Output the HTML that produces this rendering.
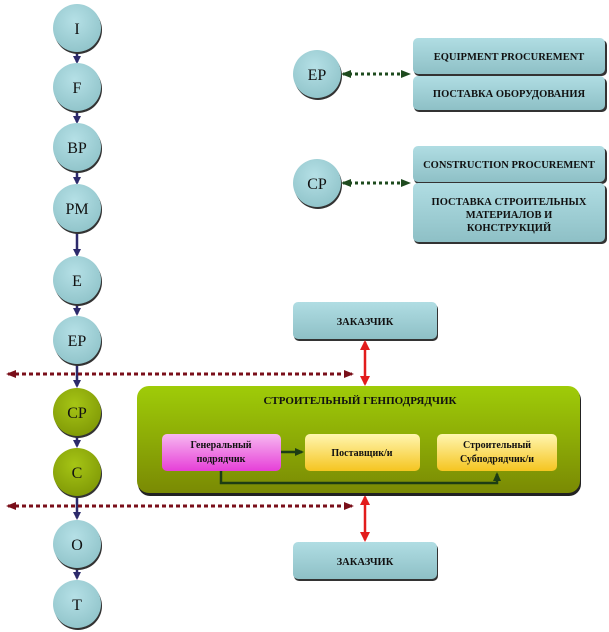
<!DOCTYPE html>
<html><head><meta charset="utf-8"><style>
html,body{margin:0;padding:0;background:#fff;}
svg{display:block;}
text{font-family:"Liberation Serif",serif;fill:#111;}
</style></head><body>
<svg width="609" height="632" viewBox="0 0 609 632" xmlns="http://www.w3.org/2000/svg">
<defs>
<radialGradient id="blue" cx="45%" cy="35%" r="70%"><stop offset="0" stop-color="#b5e0e6"/><stop offset="1" stop-color="#8fc3c9"/></radialGradient>
<radialGradient id="olive" cx="45%" cy="35%" r="70%"><stop offset="0" stop-color="#a6c515"/><stop offset="1" stop-color="#7f9806"/></radialGradient>
<linearGradient id="bbox" x1="0" y1="0" x2="0" y2="1"><stop offset="0" stop-color="#b0dde3"/><stop offset="1" stop-color="#8ec0c6"/></linearGradient>
<linearGradient id="gbox" x1="0" y1="0" x2="0" y2="1"><stop offset="0" stop-color="#9fcc08"/><stop offset="1" stop-color="#7a8a04"/></linearGradient>
<linearGradient id="pink" x1="0" y1="0" x2="0" y2="1"><stop offset="0" stop-color="#f7b8f0"/><stop offset="1" stop-color="#e63fd8"/></linearGradient>
<linearGradient id="yel" x1="0" y1="0" x2="0" y2="1"><stop offset="0" stop-color="#fff6b0"/><stop offset="1" stop-color="#f5c520"/></linearGradient>
<marker id="ab" markerWidth="8" markerHeight="8" refX="6" refY="4" orient="auto" markerUnits="userSpaceOnUse"><path d="M0,0 L8,4 L0,8z" fill="#2c2a6b"/></marker>
<marker id="ag" markerWidth="10" markerHeight="8" refX="8" refY="4" orient="auto-start-reverse" markerUnits="userSpaceOnUse"><path d="M0,0 L10,4 L0,8z" fill="#1e4a1e"/></marker>
<marker id="ar" markerWidth="10" markerHeight="8" refX="8" refY="4" orient="auto-start-reverse" markerUnits="userSpaceOnUse"><path d="M0,0 L10,4 L0,8z" fill="#7a0f1a"/></marker>
<marker id="red" markerWidth="10" markerHeight="10" refX="8" refY="5" orient="auto-start-reverse" markerUnits="userSpaceOnUse"><path d="M0,0 L10,5 L0,10z" fill="#e21c1c"/></marker>
<marker id="dg" markerWidth="9" markerHeight="8" refX="7" refY="4" orient="auto" markerUnits="userSpaceOnUse"><path d="M0,0 L9,4 L0,8z" fill="#1d3d14"/></marker>
</defs>

<!-- vertical chain connectors -->
<g stroke="#2c2a6b" stroke-width="2.5" fill="none">
<line x1="77" y1="52" x2="77" y2="62" marker-end="url(#ab)"/>
<line x1="77" y1="111" x2="77" y2="122" marker-end="url(#ab)"/>
<line x1="77" y1="171" x2="77" y2="183" marker-end="url(#ab)"/>
<line x1="77" y1="232" x2="77" y2="255" marker-end="url(#ab)"/>
<line x1="77" y1="304" x2="77" y2="314" marker-end="url(#ab)"/>
<line x1="77" y1="364" x2="77" y2="386" marker-end="url(#ab)"/>
<line x1="77" y1="436" x2="77" y2="446" marker-end="url(#ab)"/>
<line x1="77" y1="496" x2="77" y2="518" marker-end="url(#ab)"/>
<line x1="77" y1="568" x2="77" y2="578" marker-end="url(#ab)"/>
</g>

<!-- dashed horizontal -->
<g stroke="#7a0f1a" stroke-width="3" stroke-dasharray="4,3" fill="none">
<line x1="8" y1="374" x2="352" y2="374" marker-start="url(#ar)" marker-end="url(#ar)"/>
<line x1="8" y1="506" x2="352" y2="506" marker-start="url(#ar)" marker-end="url(#ar)"/>
</g>

<!-- circles -->
<g stroke="#222" stroke-width="0">
<g font-size="16" text-anchor="middle">
<circle cx="78" cy="30" r="24" fill="#333"/><circle cx="77" cy="28" r="24" fill="url(#blue)"/><text x="77" y="34">I</text>
<circle cx="78" cy="89" r="24" fill="#333"/><circle cx="77" cy="87" r="24" fill="url(#blue)"/><text x="77" y="93">F</text>
<circle cx="78" cy="149" r="24" fill="#333"/><circle cx="77" cy="147" r="24" fill="url(#blue)"/><text x="77" y="153">BP</text>
<circle cx="78" cy="210" r="24" fill="#333"/><circle cx="77" cy="208" r="24" fill="url(#blue)"/><text x="77" y="214">PM</text>
<circle cx="78" cy="282" r="24" fill="#333"/><circle cx="77" cy="280" r="24" fill="url(#blue)"/><text x="77" y="286">E</text>
<circle cx="78" cy="342" r="24" fill="#333"/><circle cx="77" cy="340" r="24" fill="url(#blue)"/><text x="77" y="346">EP</text>
<circle cx="78" cy="414" r="24" fill="#333"/><circle cx="77" cy="412" r="24" fill="url(#olive)"/><text x="77" y="418">CP</text>
<circle cx="78" cy="474" r="24" fill="#333"/><circle cx="77" cy="472" r="24" fill="url(#olive)"/><text x="77" y="478">C</text>
<circle cx="78" cy="546" r="24" fill="#333"/><circle cx="77" cy="544" r="24" fill="url(#blue)"/><text x="77" y="550">O</text>
<circle cx="78" cy="606" r="24" fill="#333"/><circle cx="77" cy="604" r="24" fill="url(#blue)"/><text x="77" y="610">T</text>
<circle cx="318" cy="76" r="24" fill="#333"/><circle cx="317" cy="74" r="24" fill="url(#blue)"/><text x="317" y="80">EP</text>
<circle cx="318" cy="185" r="24" fill="#333"/><circle cx="317" cy="183" r="24" fill="url(#blue)"/><text x="317" y="189">CP</text>
</g>
</g>

<!-- green dotted connectors -->
<g stroke="#1e4a1e" stroke-width="3" stroke-dasharray="3,3" fill="none">
<line x1="343" y1="74" x2="409" y2="74" marker-start="url(#ag)" marker-end="url(#ag)"/>
<line x1="343" y1="183" x2="409" y2="183" marker-start="url(#ag)" marker-end="url(#ag)"/>
</g>

<!-- procurement boxes -->
<g font-size="10.5" font-weight="bold" text-anchor="middle">
<rect x="414" y="40" width="193" height="36" rx="5" fill="#333"/><rect x="413" y="38" width="192" height="36" rx="5" fill="url(#bbox)"/><text x="509" y="60">EQUIPMENT PROCUREMENT</text>
<rect x="414" y="78" width="193" height="34" rx="5" fill="#333"/><rect x="413" y="76" width="192" height="34" rx="5" fill="url(#bbox)"/><text x="509" y="97">ПОСТАВКА ОБОРУДОВАНИЯ</text>
<rect x="414" y="148" width="193" height="36" rx="5" fill="#333"/><rect x="413" y="146" width="192" height="36" rx="5" fill="url(#bbox)"/><text x="509" y="168">CONSTRUCTION PROCUREMENT</text>
<rect x="414" y="185" width="193" height="59" rx="5" fill="#333"/><rect x="413" y="183" width="192" height="59" rx="5" fill="url(#bbox)"/>
<text x="509" y="205">ПОСТАВКА СТРОИТЕЛЬНЫХ</text><text x="509" y="218">МАТЕРИАЛОВ И</text><text x="509" y="231">КОНСТРУКЦИЙ</text>
<!-- customer boxes -->
<rect x="294" y="304" width="144" height="37" rx="5" fill="#333"/><rect x="293" y="302" width="144" height="37" rx="5" fill="url(#bbox)"/><text x="365" y="325">ЗАКАЗЧИК</text>
<rect x="294" y="544" width="144" height="37" rx="5" fill="#333"/><rect x="293" y="542" width="144" height="37" rx="5" fill="url(#bbox)"/><text x="365" y="565">ЗАКАЗЧИК</text>
</g>

<!-- red arrows -->
<g stroke="#e21c1c" stroke-width="2.5">
<line x1="365" y1="342" x2="365" y2="384" marker-start="url(#red)" marker-end="url(#red)"/>
<line x1="365" y1="497" x2="365" y2="540" marker-start="url(#red)" marker-end="url(#red)"/>
</g>

<!-- green container -->
<rect x="138" y="388" width="443" height="108" rx="12" fill="#222"/>
<rect x="137" y="386" width="443" height="107" rx="12" fill="url(#gbox)"/>
<text x="360" y="404" font-size="11" font-weight="bold" text-anchor="middle">СТРОИТЕЛЬНЫЙ  ГЕНПОДРЯДЧИК</text>

<g stroke="#1d3d14" stroke-width="2.5" fill="none">
<line x1="281" y1="452" x2="302" y2="452" marker-end="url(#dg)"/>
<polyline points="221,471 221,483 497,483 497,474" marker-end="url(#dg)"/>
</g>

<g font-size="10" font-weight="bold" text-anchor="middle">
<rect x="162" y="434" width="119" height="37" rx="5" fill="url(#pink)"/>
<text x="221" y="448">Генеральный</text><text x="221" y="462">подрядчик</text>
<rect x="305" y="434" width="115" height="37" rx="5" fill="url(#yel)"/>
<text x="362" y="456">Поставщик/и</text>
<rect x="437" y="434" width="120" height="37" rx="5" fill="url(#yel)"/>
<text x="497" y="448">Строительный</text><text x="497" y="462">Субподрядчик/и</text>
</g>
</svg>
</body></html>
